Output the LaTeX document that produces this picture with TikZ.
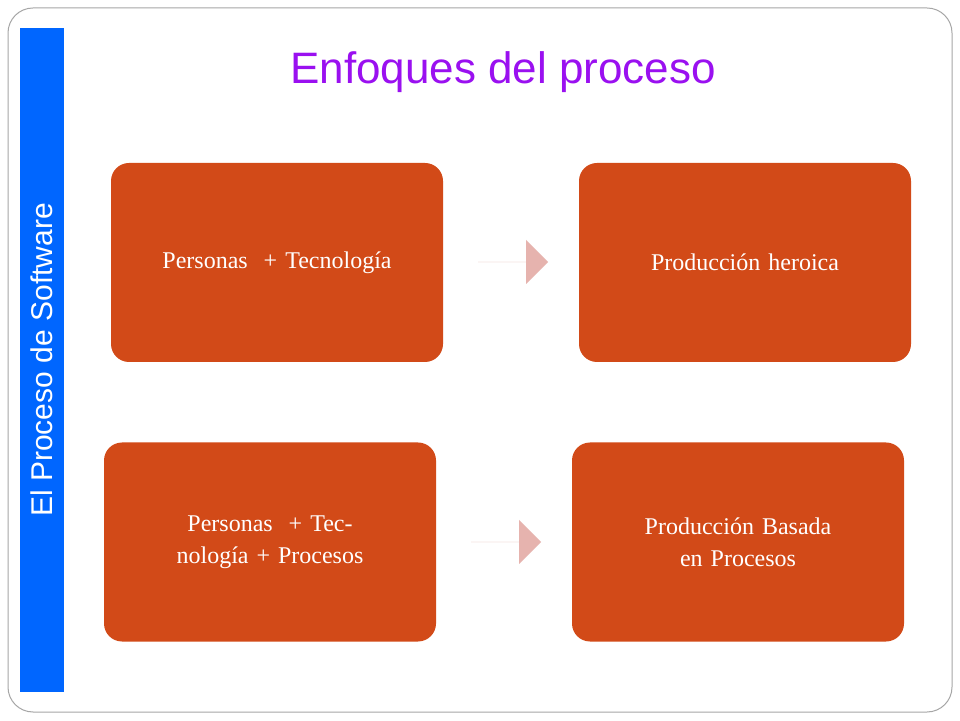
\documentclass[tikz,border=0pt]{standalone}
\usepackage{fontspec}
\setmainfont{Liberation Serif}
\setsansfont{Liberation Sans}
\usetikzlibrary{shapes.arrows}
\definecolor{boxor}{HTML}{D24A18}
\definecolor{arrp}{HTML}{E6B3AE}
\definecolor{barblue}{HTML}{0066FF}
\definecolor{titp}{HTML}{9A10F0}
\begin{document}
\begin{tikzpicture}[x=1pt,y=1pt,
  box/.style={fill=boxor,rounded corners=18pt,minimum width=332pt,minimum height=199pt,text=white,font=\fontsize{24}{32}\selectfont,align=center,text width=300pt,inner sep=0pt},
  arr/.style={single arrow,fill=arrp,minimum height=70pt,minimum width=80pt,single arrow head extend=18pt,inner sep=0pt,shape border rotate=0}]
\useasboundingbox (0,0) rectangle (960,720);
\fill[white] (0,0) rectangle (960,720);
\draw[gray!70,line width=1pt,rounded corners=25pt] (8,8) rectangle (952,712);
\fill[barblue] (20,28) rectangle (64,692);
\node[rotate=90,text=white,font=\sffamily\fontsize{30}{34}\selectfont] (side) at (42,360) {El Proceso de Software};
\node[text=titp,font=\sffamily\fontsize{44}{50}\selectfont] (title) at (503,648) {Enfoques del proceso};
\node[box] (b1) at (277,457.5) {Personas \ + Tecnología};
\node[box] (b2) at (745,457.5) {Producción heroica};
\node[box] (b3) at (270,178) {Personas \ + Tecnología + Procesos};
\node[box] (b4) at (738,178) {Producción Basada en Procesos};
\node[arr,minimum width=44pt,single arrow head extend=18pt] (a1) at (513,458) {};
\node[arr,minimum width=44pt,single arrow head extend=18pt] (a2) at (506,178) {};
\end{tikzpicture}
\end{document}
